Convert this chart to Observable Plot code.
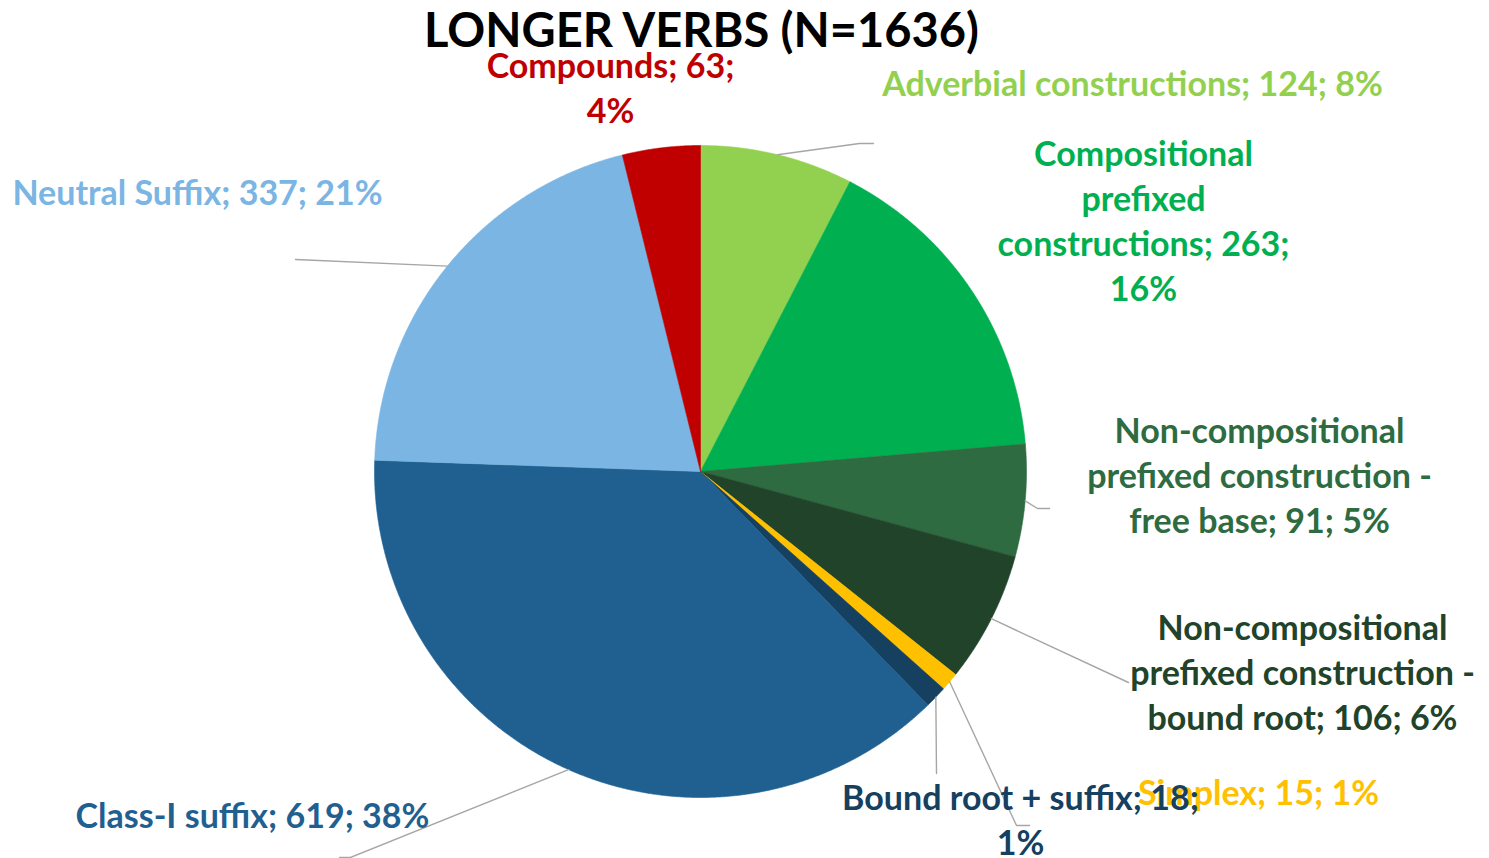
<!DOCTYPE html>
<html><head><meta charset="utf-8">
<script src="https://cdn.jsdelivr.net/npm/d3@7"></script>
<script src="https://cdn.jsdelivr.net/npm/@observablehq/plot@0.6"></script>
<style>html,body{margin:0;padding:0;background:#fff;}</style>
</head><body><div id="chart"></div>
<script>
// ---- data ----
const title = "LONGER VERBS (N=1636)";
const categories = [
  "Adverbial constructions",
  "Compositional prefixed constructions",
  "Non-compositional prefixed construction - free base",
  "Non-compositional prefixed construction - bound root",
  "Simplex",
  "Bound root + suffix",
  "Class-I suffix",
  "Neutral Suffix",
  "Compounds"
];
const counts = [124, 263, 91, 106, 15, 18, 619, 337, 63];
const percents = ["8%", "16%", "5%", "6%", "1%", "1%", "38%", "21%", "4%"];
const labelTexts = [
  "Adverbial constructions; 124; 8%",
  "Compositional\nprefixed\nconstructions; 263;\n16%",
  "Non-compositional\nprefixed construction -\nfree base; 91; 5%",
  "Non-compositional\nprefixed construction -\nbound root; 106; 6%",
  "Simplex; 15; 1%",
  "Bound root + suffix; 18;\n1%",
  "Class-I suffix; 619; 38%",
  "Neutral Suffix; 337; 21%",
  "Compounds; 63;\n4%"
];

// ---- styles / layout ----
const colors = ["#92D050", "#00B050", "#2E6B40", "#21432A", "#FFC000", "#15405F", "#1F6091", "#7AB5E3", "#C00000"];
const W = 1489, H = 858, CX = 700, CY = 471, R = 326;
const FS = 34, LINE = 45;
// label block centres (pixels) and leader-line bends (pixels)
const labelPos = [[1132, 81], [1143, 219], [1259, 473], [1302, 670], [1258, 790], [1020, 818], [252, 813], [197, 190], [610, 86]];
const leaderBends = [
  [[859, 143], [873, 143]],
  null,
  [[1037, 508], [1049, 508]],
  [[1128, 682]],
  [[1016, 825], [1029, 825]],
  [[936, 773]],
  [[350, 857], [339, 857]],
  [[295, 259]],
  null
];
const ux = px => (px - CX) / R;
const uy = py => (CY - py) / R;

// ---- geometry from data ----
const arcs = d3.pie().sort(null).startAngle(0).endAngle(2 * Math.PI)(counts);
const slicePts = [];
arcs.forEach((a, i) => {
  const n = Math.max(4, Math.ceil((a.endAngle - a.startAngle) / 0.004));
  slicePts.push({i, x: 0, y: 0});
  for (let k = 0; k <= n; k++) {
    const t = a.startAngle + (a.endAngle - a.startAngle) * k / n;
    slicePts.push({i, x: Math.sin(t), y: Math.cos(t)});
  }
  slicePts.push({i, x: 0, y: 0});
});

const leaderPts = [];
arcs.forEach((a, i) => {
  if (!leaderBends[i]) return;
  const m = (a.startAngle + a.endAngle) / 2;
  leaderPts.push({i, x: Math.sin(m), y: Math.cos(m)});
  leaderBends[i].forEach(([px, py]) => leaderPts.push({i, x: ux(px), y: uy(py)}));
});

const labels = categories.map((c, i) => ({
  i, text: labelTexts[i], color: colors[i], x: ux(labelPos[i][0]), y: uy(labelPos[i][1])
}));
// draw Simplex before "Bound root + suffix" (overlap order as in reference)
const labelOrder = [0, 1, 2, 3, 6, 7, 8, 4, 5].map(i => labels[i]);

const chart = Plot.plot({
  width: W, height: H, margin: 0,
  x: {domain: [ux(0), ux(W)], axis: null},
  y: {domain: [uy(H), uy(0)], axis: null},
  color: {type: "identity"},
  style: {fontFamily: "Lato, 'Open Sans', sans-serif", background: "white"},
  marks: [
    Plot.line(slicePts, {x: "x", y: "y", z: "i", fill: d => colors[d.i], stroke: d => colors[d.i], strokeWidth: 0.6, curve: "linear"}),
    Plot.line(leaderPts, {x: "x", y: "y", z: "i", stroke: "#A6A6A6", strokeWidth: 1.4}),
    Plot.text(labelOrder, {x: "x", y: "y", text: "text", fill: "color", fontSize: FS, fontWeight: "bold", lineHeight: LINE / FS, textAnchor: "middle"}),
    Plot.text([title], {frameAnchor: "top", lineAnchor: "middle", dx: 701 - W / 2, dy: 31, fontSize: 47, fontWeight: "bold", fill: "black"})
  ]
});
document.getElementById("chart").appendChild(chart);
</script>
</body></html>
